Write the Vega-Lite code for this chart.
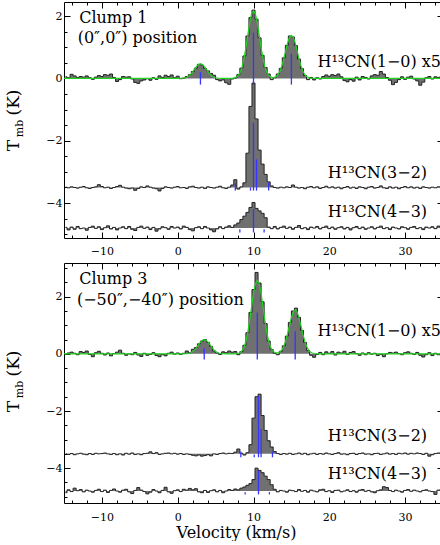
{
"$schema":"https://vega.github.io/schema/vega-lite/v6.json",
"padding":{"left":3,"top":1,"right":0,"bottom":0},
"background":"white",
"bounds":"flush",
"spacing":25,
"config":{
 "view":{"stroke":"black","strokeWidth":1},
 "axis":{"grid":false,"domain":false,"tickColor":"black","tickWidth":1,"labelColor":"black","labelFont":"DejaVu Serif","labelFontSize":11,"titleFont":"DejaVu Serif","titleFontWeight":"normal","titleColor":"black"},
 "text":{"font":"DejaVu Serif","fontSize":16,"color":"black"}
},
"datasets":{
 "base":[{"s":"p","b":0},{"s":"q","b":-3.5},{"s":"r","b":-4.8}],
 "top":[
{"v":-14.8,"p":0.05,"q":-3.49,"r":-4.78},{"v":-14.4,"p":0.02,"q":-3.51,"r":-4.86},{"v":-14.0,"p":0.13,"q":-3.48,"r":-4.77},{"v":-13.6,"p":0.08,"q":-3.5,"r":-4.84},{"v":-13.2,"p":0.03,"q":-3.52,"r":-4.75},{"v":-12.8,"p":0.06,"q":-3.49,"r":-4.82},{"v":-12.4,"p":0.04,"q":-3.47,"r":-4.8},{"v":-12.0,"p":0.08,"q":-3.51,"r":-4.87},{"v":-11.6,"p":0.02,"q":-3.53,"r":-4.78},{"v":-11.2,"p":-0.03,"q":-3.5,"r":-4.74},
{"v":-10.8,"p":0.04,"q":-3.48,"r":-4.81},{"v":-10.4,"p":0.09,"q":-3.41,"r":-4.76},{"v":-10.0,"p":0.06,"q":-3.47,"r":-4.85},{"v":-9.6,"p":0.12,"q":-3.51,"r":-4.79},{"v":-9.2,"p":0.1,"q":-3.49,"r":-4.73},{"v":-8.8,"p":0.14,"q":-3.53,"r":-4.83},{"v":-8.4,"p":0.03,"q":-3.5,"r":-4.78},{"v":-8.0,"p":-0.1,"q":-3.47,"r":-4.86},{"v":-7.6,"p":-0.04,"q":-3.43,"r":-4.8},{"v":-7.2,"p":0.06,"q":-3.49,"r":-4.76},
{"v":-6.8,"p":0.04,"q":-3.52,"r":-4.82},{"v":-6.4,"p":0.05,"q":-3.54,"r":-4.75},{"v":-6.0,"p":-0.02,"q":-3.52,"r":-4.84},{"v":-5.6,"p":-0.13,"q":-3.59,"r":-4.88},{"v":-5.2,"p":-0.16,"q":-3.53,"r":-4.78},{"v":-4.8,"p":-0.08,"q":-3.48,"r":-4.74},{"v":-4.4,"p":-0.05,"q":-3.5,"r":-4.81},{"v":-4.0,"p":-0.01,"q":-3.45,"r":-4.77},{"v":-3.6,"p":-0.06,"q":-3.49,"r":-4.85},{"v":-3.2,"p":0.02,"q":-3.52,"r":-4.78},
{"v":-2.8,"p":-0.03,"q":-3.54,"r":-4.9},{"v":-2.4,"p":0.08,"q":-3.61,"r":-4.83},{"v":-2.0,"p":0.03,"q":-3.53,"r":-4.76},{"v":-1.6,"p":0.1,"q":-3.48,"r":-4.79},{"v":-1.2,"p":0.06,"q":-3.5,"r":-4.84},{"v":-0.8,"p":0.11,"q":-3.52,"r":-4.75},{"v":-0.4,"p":0.02,"q":-3.49,"r":-4.8},{"v":0.0,"p":0.07,"q":-3.47,"r":-4.77},{"v":0.4,"p":-0.01,"q":-3.51,"r":-4.83},{"v":0.8,"p":0.01,"q":-3.5,"r":-4.74},
{"v":1.2,"p":0.06,"q":-3.53,"r":-4.78},{"v":1.6,"p":0.12,"q":-3.48,"r":-4.85},{"v":2.0,"p":0.22,"q":-3.46,"r":-4.89},{"v":2.4,"p":0.33,"q":-3.5,"r":-4.79},{"v":2.8,"p":0.45,"q":-3.52,"r":-4.76},{"v":3.2,"p":0.43,"q":-3.49,"r":-4.82},{"v":3.6,"p":0.32,"q":-3.53,"r":-4.75},{"v":4.0,"p":0.24,"q":-3.48,"r":-4.8},{"v":4.4,"p":0.16,"q":-3.5,"r":-4.86},{"v":4.8,"p":0.1,"q":-3.52,"r":-4.92},
{"v":5.2,"p":-0.04,"q":-3.49,"r":-4.83},{"v":5.6,"p":-0.08,"q":-3.46,"r":-4.76},{"v":6.0,"p":-0.05,"q":-3.51,"r":-4.82},{"v":6.4,"p":-0.14,"q":-3.53,"r":-4.77},{"v":6.8,"p":-0.19,"q":-3.49,"r":-4.73},{"v":7.2,"p":-0.02,"q":-3.42,"r":-4.78},{"v":7.6,"p":0.01,"q":-3.25,"r":-4.7},{"v":8.0,"p":0.12,"q":-3.55,"r":-4.64},{"v":8.4,"p":0.33,"q":-3.48,"r":-4.53},{"v":8.8,"p":0.72,"q":-3.35,"r":-4.42},
{"v":9.2,"p":1.36,"q":-2.4,"r":-4.3},{"v":9.6,"p":1.95,"q":-0.9,"r":-4.14},{"v":10.0,"p":2.19,"q":-0.15,"r":-3.98},{"v":10.4,"p":1.9,"q":-1.3,"r":-4.17},{"v":10.8,"p":1.3,"q":-2.3,"r":-4.25},{"v":11.2,"p":0.74,"q":-2.75,"r":-4.33},{"v":11.6,"p":0.35,"q":-3.08,"r":-4.47},{"v":12.0,"p":0.14,"q":-3.32,"r":-4.77},{"v":12.4,"p":-0.04,"q":-3.45,"r":-4.82},{"v":12.8,"p":0.02,"q":-3.5,"r":-4.75},
{"v":13.2,"p":0.14,"q":-3.52,"r":-4.83},{"v":13.6,"p":0.32,"q":-3.49,"r":-4.78},{"v":14.0,"p":0.66,"q":-3.51,"r":-4.74},{"v":14.4,"p":1.06,"q":-3.48,"r":-4.81},{"v":14.8,"p":1.36,"q":-3.5,"r":-4.77},{"v":15.2,"p":1.33,"q":-3.42,"r":-4.84},{"v":15.6,"p":1.05,"q":-3.49,"r":-4.78},{"v":16.0,"p":0.62,"q":-3.52,"r":-4.72},{"v":16.4,"p":0.31,"q":-3.5,"r":-4.82},{"v":16.8,"p":0.09,"q":-3.54,"r":-4.79},
{"v":17.2,"p":-0.04,"q":-3.49,"r":-4.85},{"v":17.6,"p":0.03,"q":-3.47,"r":-4.77},{"v":18.0,"p":-0.05,"q":-3.51,"r":-4.8},{"v":18.4,"p":0.02,"q":-3.48,"r":-4.75},{"v":18.8,"p":-0.02,"q":-3.53,"r":-4.83},{"v":19.2,"p":0.06,"q":-3.5,"r":-4.78},{"v":19.6,"p":0.11,"q":-3.46,"r":-4.74},{"v":20.0,"p":0.07,"q":-3.51,"r":-4.82},{"v":20.4,"p":0.12,"q":-3.48,"r":-4.77},{"v":20.8,"p":0.09,"q":-3.52,"r":-4.84},
{"v":21.2,"p":0.14,"q":-3.49,"r":-4.79},{"v":21.6,"p":0.05,"q":-3.54,"r":-4.76},{"v":22.0,"p":-0.07,"q":-3.5,"r":-4.83},{"v":22.4,"p":-0.11,"q":-3.47,"r":-4.78},{"v":22.8,"p":-0.04,"q":-3.52,"r":-4.86},{"v":23.2,"p":-0.09,"q":-3.49,"r":-4.79},{"v":23.6,"p":0.04,"q":-3.53,"r":-4.75},{"v":24.0,"p":-0.05,"q":-3.48,"r":-4.82},{"v":24.4,"p":0.06,"q":-3.5,"r":-4.77},{"v":24.8,"p":0.03,"q":-3.54,"r":-4.84},
{"v":25.2,"p":-0.02,"q":-3.49,"r":-4.8},{"v":25.6,"p":0.08,"q":-3.47,"r":-4.76},{"v":26.0,"p":0.12,"q":-3.52,"r":-4.83},{"v":26.4,"p":0.1,"q":-3.5,"r":-4.78},{"v":26.8,"p":0.22,"q":-3.45,"r":-4.74},{"v":27.2,"p":0.14,"q":-3.51,"r":-4.82},{"v":27.6,"p":0.03,"q":-3.53,"r":-4.79},{"v":28.0,"p":-0.06,"q":-3.48,"r":-4.85},{"v":28.4,"p":-0.2,"q":-3.52,"r":-4.77},{"v":28.8,"p":-0.13,"q":-3.49,"r":-4.8},
{"v":29.2,"p":-0.04,"q":-3.54,"r":-4.83},{"v":29.6,"p":0.05,"q":-3.5,"r":-4.76},{"v":30.0,"p":-0.03,"q":-3.47,"r":-4.79},{"v":30.4,"p":0.04,"q":-3.51,"r":-4.84},{"v":30.8,"p":0.07,"q":-3.48,"r":-4.78},{"v":31.2,"p":-0.02,"q":-3.52,"r":-4.75},{"v":31.6,"p":-0.08,"q":-3.49,"r":-4.82},{"v":32.0,"p":-0.22,"q":-3.53,"r":-4.79},{"v":32.4,"p":-0.12,"q":-3.48,"r":-4.85},{"v":32.8,"p":0.02,"q":-3.5,"r":-4.77},
{"v":33.2,"p":0.06,"q":-3.52,"r":-4.8},{"v":33.6,"p":-0.02,"q":-3.49,"r":-4.76},{"v":34.0,"p":0.05,"q":-3.51,"r":-4.82},{"v":34.4,"p":0.03,"q":-3.48,"r":-4.74},{"v":34.8,"p":0.06,"q":-3.5,"r":-4.78}
 ],
 "bot":[
{"v":-14.8,"p":-0.02,"q":-3.5,"r":-4.86},{"v":-14.4,"p":0.03,"q":-3.52,"r":-4.76},{"v":-14.0,"p":0.06,"q":-3.49,"r":-4.82},{"v":-13.6,"p":0.02,"q":-3.53,"r":-4.7},{"v":-13.2,"p":-0.03,"q":-3.5,"r":-4.79},{"v":-12.8,"p":0.08,"q":-3.48,"r":-4.75},{"v":-12.4,"p":0.05,"q":-3.51,"r":-4.83},{"v":-12.0,"p":0.1,"q":-3.53,"r":-4.77},{"v":-11.6,"p":-0.02,"q":-3.49,"r":-4.8},{"v":-11.2,"p":-0.1,"q":-3.52,"r":-4.84},
{"v":-10.8,"p":0.04,"q":-3.48,"r":-4.78},{"v":-10.4,"p":0.09,"q":-3.5,"r":-4.74},{"v":-10.0,"p":0.02,"q":-3.49,"r":-4.82},{"v":-9.6,"p":-0.04,"q":-3.47,"r":-4.77},{"v":-9.2,"p":0.03,"q":-3.5,"r":-4.85},{"v":-8.8,"p":-0.07,"q":-3.52,"r":-4.78},{"v":-8.4,"p":0.01,"q":-3.49,"r":-4.73},{"v":-8.0,"p":0.06,"q":-3.53,"r":-4.8},{"v":-7.6,"p":0.13,"q":-3.5,"r":-4.84},{"v":-7.2,"p":0.02,"q":-3.54,"r":-4.77},
{"v":-6.8,"p":-0.05,"q":-3.48,"r":-4.74},{"v":-6.4,"p":0.0,"q":-3.51,"r":-4.83},{"v":-6.0,"p":-0.03,"q":-3.47,"r":-4.89},{"v":-5.6,"p":0.05,"q":-3.52,"r":-4.78},{"v":-5.2,"p":-0.04,"q":-3.5,"r":-4.68},{"v":-4.8,"p":-0.09,"q":-3.53,"r":-4.77},{"v":-4.4,"p":0.02,"q":-3.49,"r":-4.82},{"v":-4.0,"p":-0.05,"q":-3.48,"r":-4.9},{"v":-3.6,"p":-0.02,"q":-3.43,"r":-4.84},{"v":-3.2,"p":0.04,"q":-3.49,"r":-4.75},
{"v":-2.8,"p":-0.06,"q":-3.46,"r":-4.8},{"v":-2.4,"p":-0.1,"q":-3.52,"r":-4.86},{"v":-2.0,"p":-0.03,"q":-3.5,"r":-4.78},{"v":-1.6,"p":-0.07,"q":-3.48,"r":-4.67},{"v":-1.2,"p":0.02,"q":-3.47,"r":-4.83},{"v":-0.8,"p":0.06,"q":-3.5,"r":-4.88},{"v":-0.4,"p":-0.01,"q":-3.48,"r":-4.79},{"v":0.0,"p":0.03,"q":-3.51,"r":-4.76},{"v":0.4,"p":-0.02,"q":-3.49,"r":-4.82},{"v":0.8,"p":0.02,"q":-3.52,"r":-4.74},
{"v":1.2,"p":0.1,"q":-3.5,"r":-4.77},{"v":1.6,"p":0.04,"q":-3.52,"r":-4.71},{"v":2.0,"p":0.16,"q":-3.55,"r":-4.76},{"v":2.4,"p":0.22,"q":-3.57,"r":-4.72},{"v":2.8,"p":0.35,"q":-3.54,"r":-4.83},{"v":3.2,"p":0.45,"q":-3.58,"r":-4.86},{"v":3.6,"p":0.5,"q":-3.56,"r":-4.78},{"v":4.0,"p":0.4,"q":-3.53,"r":-4.85},{"v":4.4,"p":0.26,"q":-3.57,"r":-4.79},{"v":4.8,"p":0.1,"q":-3.5,"r":-4.76},
{"v":5.2,"p":0.03,"q":-3.52,"r":-4.83},{"v":5.6,"p":-0.02,"q":-3.49,"r":-4.78},{"v":6.0,"p":0.07,"q":-3.47,"r":-4.86},{"v":6.4,"p":0.04,"q":-3.5,"r":-4.8},{"v":6.8,"p":0.1,"q":-3.48,"r":-4.75},{"v":7.2,"p":0.06,"q":-3.49,"r":-4.78},{"v":7.6,"p":0.08,"q":-3.44,"r":-4.73},{"v":8.0,"p":-0.03,"q":-3.33,"r":-4.76},{"v":8.4,"p":0.08,"q":-3.48,"r":-4.7},{"v":8.8,"p":0.3,"q":-3.54,"r":-4.66},
{"v":9.2,"p":0.74,"q":-3.46,"r":-4.6},{"v":9.6,"p":1.45,"q":-3.18,"r":-4.54},{"v":10.0,"p":2.25,"q":-2.25,"r":-4.4},{"v":10.4,"p":2.85,"q":-1.5,"r":-4.0},{"v":10.8,"p":2.48,"q":-1.41,"r":-4.08},{"v":11.2,"p":1.82,"q":-2.16,"r":-4.16},{"v":11.6,"p":1.06,"q":-2.68,"r":-4.28},{"v":12.0,"p":0.45,"q":-3.04,"r":-4.4},{"v":12.4,"p":0.15,"q":-3.26,"r":-4.58},{"v":12.8,"p":0.02,"q":-3.42,"r":-4.74},
{"v":13.2,"p":-0.03,"q":-3.49,"r":-4.83},{"v":13.6,"p":0.09,"q":-3.52,"r":-4.78},{"v":14.0,"p":0.28,"q":-3.49,"r":-4.8},{"v":14.4,"p":0.62,"q":-3.51,"r":-4.84},{"v":14.8,"p":1.1,"q":-3.48,"r":-4.77},{"v":15.2,"p":1.5,"q":-3.52,"r":-4.79},{"v":15.6,"p":1.6,"q":-3.5,"r":-4.82},{"v":16.0,"p":1.28,"q":-3.47,"r":-4.75},{"v":16.4,"p":0.82,"q":-3.51,"r":-4.81},{"v":16.8,"p":0.4,"q":-3.48,"r":-4.78},
{"v":17.2,"p":0.12,"q":-3.53,"r":-4.84},{"v":17.6,"p":-0.05,"q":-3.5,"r":-4.77},{"v":18.0,"p":-0.12,"q":-3.48,"r":-4.8},{"v":18.4,"p":-0.02,"q":-3.52,"r":-4.83},{"v":18.8,"p":0.05,"q":-3.49,"r":-4.76},{"v":19.2,"p":-0.03,"q":-3.51,"r":-4.74},{"v":19.6,"p":0.07,"q":-3.47,"r":-4.82},{"v":20.0,"p":0.02,"q":-3.5,"r":-4.79},{"v":20.4,"p":0.08,"q":-3.52,"r":-4.85},{"v":20.8,"p":-0.04,"q":-3.49,"r":-4.78},
{"v":21.2,"p":0.06,"q":-3.46,"r":-4.77},{"v":21.6,"p":0.03,"q":-3.51,"r":-4.83},{"v":22.0,"p":0.09,"q":-3.5,"r":-4.8},{"v":22.4,"p":-0.02,"q":-3.53,"r":-4.76},{"v":22.8,"p":0.05,"q":-3.49,"r":-4.82},{"v":23.2,"p":0.08,"q":-3.48,"r":-4.79},{"v":23.6,"p":0.01,"q":-3.52,"r":-4.84},{"v":24.0,"p":-0.05,"q":-3.49,"r":-4.77},{"v":24.4,"p":0.03,"q":-3.47,"r":-4.75},{"v":24.8,"p":-0.03,"q":-3.51,"r":-4.81},
{"v":25.2,"p":0.04,"q":-3.5,"r":-4.78},{"v":25.6,"p":-0.01,"q":-3.53,"r":-4.83},{"v":26.0,"p":0.02,"q":-3.49,"r":-4.86},{"v":26.4,"p":-0.06,"q":-3.48,"r":-4.79},{"v":26.8,"p":-0.02,"q":-3.52,"r":-4.76},{"v":27.2,"p":-0.1,"q":-3.5,"r":-4.65},{"v":27.6,"p":0.0,"q":-3.47,"r":-4.68},{"v":28.0,"p":0.05,"q":-3.51,"r":-4.78},{"v":28.4,"p":0.03,"q":-3.49,"r":-4.82},{"v":28.8,"p":0.06,"q":-3.52,"r":-4.77},
{"v":29.2,"p":0.01,"q":-3.48,"r":-4.8},{"v":29.6,"p":-0.03,"q":-3.5,"r":-4.84},{"v":30.0,"p":0.04,"q":-3.47,"r":-4.78},{"v":30.4,"p":0.07,"q":-3.51,"r":-4.75},{"v":30.8,"p":0.02,"q":-3.48,"r":-4.81},{"v":31.2,"p":-0.02,"q":-3.5,"r":-4.77},{"v":31.6,"p":0.05,"q":-3.47,"r":-4.8},{"v":32.0,"p":-0.05,"q":-3.49,"r":-4.83},{"v":32.4,"p":-0.11,"q":-3.52,"r":-4.78},{"v":32.8,"p":-0.03,"q":-3.48,"r":-4.76},
{"v":33.2,"p":0.04,"q":-3.58,"r":-4.8},{"v":33.6,"p":-0.06,"q":-3.53,"r":-4.82},{"v":34.0,"p":0.02,"q":-3.49,"r":-4.92},{"v":34.4,"p":-0.03,"q":-3.47,"r":-4.77},{"v":34.8,"p":0.01,"q":-3.5,"r":-4.75}
 ],
 "fitTop":[
{"v":-15,"t":0},{"v":0,"t":0},{"v":0.5,"t":0.004},{"v":1,"t":0.021},{"v":1.25,"t":0.043},{"v":1.5,"t":0.081},{"v":1.75,"t":0.139},{"v":2,"t":0.215},{"v":2.25,"t":0.303},{"v":2.5,"t":0.387},{"v":2.75,"t":0.447},{"v":3,"t":0.47},{"v":3.25,"t":0.447},{"v":3.5,"t":0.387},{"v":3.75,"t":0.303},{"v":4,"t":0.215},{"v":4.25,"t":0.139},{"v":4.5,"t":0.081},{"v":4.75,"t":0.043},{"v":5,"t":0.021},{"v":5.5,"t":0.004},{"v":6,"t":0},{"v":7,"t":0.002},{"v":7.25,"t":0.006},{"v":7.5,"t":0.017},{"v":7.75,"t":0.042},{"v":8,"t":0.095},{"v":8.25,"t":0.198},{"v":8.5,"t":0.373},{"v":8.75,"t":0.64},{"v":9,"t":0.994},{"v":9.25,"t":1.397},{"v":9.5,"t":1.786},{"v":9.75,"t":2.066},{"v":10,"t":2.17},{"v":10.25,"t":2.066},{"v":10.5,"t":1.786},{"v":10.75,"t":1.397},{"v":11,"t":0.994},{"v":11.25,"t":0.64},{"v":11.5,"t":0.373},{"v":11.75,"t":0.198},{"v":12,"t":0.096},{"v":12.25,"t":0.046},{"v":12.5,"t":0.027},{"v":12.75,"t":0.033},{"v":13,"t":0.063},{"v":13.25,"t":0.126},{"v":13.5,"t":0.237},{"v":13.75,"t":0.407},{"v":14,"t":0.632},{"v":14.25,"t":0.889},{"v":14.5,"t":1.136},{"v":14.75,"t":1.314},{"v":15,"t":1.38},{"v":15.25,"t":1.314},{"v":15.5,"t":1.136},{"v":15.75,"t":0.889},{"v":16,"t":0.632},{"v":16.25,"t":0.407},{"v":16.5,"t":0.237},{"v":16.75,"t":0.126},{"v":17,"t":0.061},{"v":17.25,"t":0.027},{"v":17.5,"t":0.011},{"v":17.75,"t":0.004},{"v":18,"t":0.001},{"v":18.5,"t":0},{"v":35,"t":0}
 ],
 "fitBot":[
{"v":-15,"t":0},{"v":0.5,"t":0},{"v":1,"t":0.004},{"v":1.25,"t":0.01},{"v":1.5,"t":0.022},{"v":1.75,"t":0.046},{"v":2,"t":0.086},{"v":2.25,"t":0.148},{"v":2.5,"t":0.229},{"v":2.75,"t":0.322},{"v":3,"t":0.412},{"v":3.25,"t":0.476},{"v":3.5,"t":0.5},{"v":3.75,"t":0.476},{"v":4,"t":0.412},{"v":4.25,"t":0.322},{"v":4.5,"t":0.229},{"v":4.75,"t":0.148},{"v":5,"t":0.086},{"v":5.25,"t":0.046},{"v":5.5,"t":0.022},{"v":5.75,"t":0.01},{"v":6,"t":0.004},{"v":6.5,"t":0},{"v":7.5,"t":0.002},{"v":7.75,"t":0.007},{"v":8,"t":0.02},{"v":8.25,"t":0.049},{"v":8.5,"t":0.113},{"v":8.75,"t":0.235},{"v":9,"t":0.442},{"v":9.25,"t":0.758},{"v":9.5,"t":1.177},{"v":9.75,"t":1.655},{"v":10,"t":2.115},{"v":10.25,"t":2.447},{"v":10.5,"t":2.57},{"v":10.75,"t":2.447},{"v":11,"t":2.115},{"v":11.25,"t":1.655},{"v":11.5,"t":1.177},{"v":11.75,"t":0.758},{"v":12,"t":0.442},{"v":12.25,"t":0.235},{"v":12.5,"t":0.114},{"v":12.75,"t":0.053},{"v":13,"t":0.032},{"v":13.25,"t":0.037},{"v":13.5,"t":0.07},{"v":13.75,"t":0.141},{"v":14,"t":0.265},{"v":14.25,"t":0.454},{"v":14.5,"t":0.705},{"v":14.75,"t":0.992},{"v":15,"t":1.267},{"v":15.25,"t":1.466},{"v":15.5,"t":1.54},{"v":15.75,"t":1.466},{"v":16,"t":1.267},{"v":16.25,"t":0.992},{"v":16.5,"t":0.705},{"v":16.75,"t":0.454},{"v":17,"t":0.265},{"v":17.25,"t":0.141},{"v":17.5,"t":0.068},{"v":17.75,"t":0.03},{"v":18,"t":0.012},{"v":18.25,"t":0.004},{"v":18.5,"t":0.001},{"v":19,"t":0},{"v":35,"t":0}
 ],
 "hfTop":[
{"v":3.0,"lo":-0.2,"hi":0.2},{"v":10.0,"lo":-0.2,"hi":1.47},{"v":15.0,"lo":-0.2,"hi":0.79},{"v":10.0,"lo":-3.6,"hi":-1.42},{"v":10.4,"lo":-3.6,"hi":-2.6},{"v":7.6,"lo":-3.6,"hi":-3.36},{"v":12.0,"lo":-3.6,"hi":-3.35},{"v":9.6,"lo":-3.6,"hi":-3.5},{"v":10.0,"lo":-4.94,"hi":-4.19},{"v":8.2,"lo":-4.94,"hi":-4.84},{"v":11.4,"lo":-4.94,"hi":-4.84}
 ],
 "hfBot":[
{"v":3.5,"lo":-0.2,"hi":0.2},{"v":10.5,"lo":-0.2,"hi":1.45},{"v":15.5,"lo":-0.2,"hi":0.79},{"v":10.66,"lo":-3.62,"hi":-1.48},{"v":11.0,"lo":-3.62,"hi":-2.63},{"v":8.33,"lo":-3.62,"hi":-3.42},{"v":12.5,"lo":-3.62,"hi":-3.42},{"v":10.1,"lo":-3.62,"hi":-3.52},{"v":10.66,"lo":-4.92,"hi":-4.09},{"v":8.9,"lo":-4.92,"hi":-4.84},{"v":12.1,"lo":-4.92,"hi":-4.84}
 ],
 "lblTopL":[{"v":-13.0,"t":1.79,"label":"Clump 1"},{"v":-13.2,"t":1.12,"label":"(0″,0″) position"}],
 "lblTopR":[{"v":34.74,"t":0.35,"label":"H¹³CN(1−0) x5"},{"v":32.9,"t":-3.18,"label":"H¹³CN(3−2)"},{"v":32.9,"t":-4.46,"label":"H¹³CN(4−3)"}],
 "lblBotL":[{"v":-13.0,"t":2.44,"label":"Clump 3"},{"v":-13.3,"t":1.71,"label":"(−50″,−40″) position"}],
 "lblBotR":[{"v":34.74,"t":0.63,"label":"H¹³CN(1−0) x5"},{"v":32.9,"t":-3.05,"label":"H¹³CN(3−2)"},{"v":32.9,"t":-4.38,"label":"H¹³CN(4−3)"}]
},
"vconcat":[
{
 "width":379,"height":236,
 "resolve":{"axis":{"x":"independent","y":"independent"}},
 "layer":[
  {"data":{"name":"top"},
   "transform":[{"fold":["p","q","r"],"as":["s","t"]},{"lookup":"s","from":{"data":{"name":"base"},"key":"s","fields":["b"]}}],
   "mark":{"type":"area","interpolate":"step","fill":"#707070","clip":true},
   "encoding":{
    "x":{"field":"v","type":"quantitative","scale":{"domain":[-15,35],"nice":false,"zero":false},"axis":{"orient":"bottom","values":[-10,0,10,20,30],"tickSize":-6,"labelPadding":13,"title":null}},
    "y":{"field":"t","type":"quantitative","scale":{"domain":[-5.12,2.45],"nice":false,"zero":false},"axis":{"orient":"left","values":[-4,-2,0,2],"tickSize":-6,"labelPadding":8,"title":"T","titleFontSize":17,"titleAngle":270,"titleX":-46,"titleY":143,"titleAlign":"center","titleBaseline":"alphabetic"}},
    "y2":{"field":"b"},
    "detail":{"field":"s"}}},
  {"data":{"name":"top"},
   "transform":[{"fold":["p","q","r"],"as":["s","t"]}],
   "mark":{"type":"line","interpolate":"step","color":"#222222","strokeWidth":1,"clip":true},
   "encoding":{
    "x":{"field":"v","type":"quantitative","scale":{"domain":[-15,35],"nice":false,"zero":false},"axis":{"orient":"bottom","values":[-14,-12,-10,-8,-6,-4,-2,0,2,4,6,8,10,12,14,16,18,20,22,24,26,28,30,32,34],"tickSize":-3,"labels":false,"title":null}},
    "y":{"field":"t","type":"quantitative","scale":{"domain":[-5.12,2.45],"nice":false,"zero":false},"axis":{"orient":"left","values":[-5,-4.5,-4,-3.5,-3,-2.5,-2,-1.5,-1,-0.5,0,0.5,1,1.5,2],"tickSize":-3,"labels":false,"title":"mb","titleFontSize":11,"titleAngle":270,"titleX":-42,"titleY":126,"titleAlign":"center","titleBaseline":"alphabetic"}},
    "detail":{"field":"s"}}},
  {"data":{"name":"fitTop"},
   "mark":{"type":"line","color":"#1fd41f","strokeWidth":1.2,"clip":true},
   "encoding":{
    "x":{"field":"v","type":"quantitative","scale":{"domain":[-15,35],"nice":false,"zero":false},"axis":{"orient":"top","values":[-10,0,10,20,30],"tickSize":-6,"labels":false,"title":null}},
    "y":{"field":"t","type":"quantitative","scale":{"domain":[-5.12,2.45],"nice":false,"zero":false},"axis":{"orient":"right","values":[-4,-2,0,2],"tickSize":-6,"labels":false,"title":null}}}},
  {"data":{"name":"hfTop"},
   "mark":{"type":"rule","color":"#3535ff","strokeWidth":1.3},
   "encoding":{
    "x":{"field":"v","type":"quantitative","scale":{"domain":[-15,35],"nice":false,"zero":false},"axis":{"orient":"top","values":[-14,-12,-10,-8,-6,-4,-2,0,2,4,6,8,10,12,14,16,18,20,22,24,26,28,30,32,34],"tickSize":-3,"labels":false,"title":null}},
    "y":{"field":"lo","type":"quantitative","scale":{"domain":[-5.12,2.45],"nice":false,"zero":false},"axis":{"orient":"right","values":[-5,-4.5,-4,-3.5,-3,-2.5,-2,-1.5,-1,-0.5,0,0.5,1,1.5,2],"tickSize":-3,"labels":false,"title":null}},
    "y2":{"field":"hi"}}},
  {"data":{"name":"lblTopL"},
   "mark":{"type":"text","align":"left","baseline":"alphabetic"},
   "encoding":{
    "x":{"field":"v","type":"quantitative","scale":{"domain":[-15,35],"nice":false,"zero":false},"axis":null},
    "y":{"field":"t","type":"quantitative","scale":{"domain":[-5.12,2.45],"nice":false,"zero":false},"axis":{"orient":"left","ticks":false,"labels":false,"title":"(K)","titleFontSize":17,"titleAngle":270,"titleX":-46,"titleY":100,"titleAlign":"center","titleBaseline":"alphabetic"}},
    "text":{"field":"label"}}},
  {"data":{"name":"lblTopR"},
   "mark":{"type":"text","align":"right","baseline":"alphabetic"},
   "encoding":{
    "x":{"field":"v","type":"quantitative","scale":{"domain":[-15,35],"nice":false,"zero":false},"axis":null},
    "y":{"field":"t","type":"quantitative","scale":{"domain":[-5.12,2.45],"nice":false,"zero":false},"axis":null},
    "text":{"field":"label"}}}
 ]
},
{
 "width":379,"height":240,
 "resolve":{"axis":{"x":"independent","y":"independent"}},
 "layer":[
  {"data":{"name":"bot"},
   "transform":[{"fold":["p","q","r"],"as":["s","t"]},{"lookup":"s","from":{"data":{"name":"base"},"key":"s","fields":["b"]}}],
   "mark":{"type":"area","interpolate":"step","fill":"#707070","clip":true},
   "encoding":{
    "x":{"field":"v","type":"quantitative","scale":{"domain":[-15,35],"nice":false,"zero":false},"axis":{"orient":"bottom","values":[-10,0,10,20,30],"tickSize":-6,"labelPadding":14,"title":"Velocity (km/s)","titleFontSize":16,"titlePadding":2,"titleX":172}},
    "y":{"field":"t","type":"quantitative","scale":{"domain":[-5.22,3.18],"nice":false,"zero":false},"axis":{"orient":"left","values":[-4,-2,0,2],"tickSize":-6,"labelPadding":8,"title":"T","titleFontSize":17,"titleAngle":270,"titleX":-46,"titleY":143,"titleAlign":"center","titleBaseline":"alphabetic"}},
    "y2":{"field":"b"},
    "detail":{"field":"s"}}},
  {"data":{"name":"bot"},
   "transform":[{"fold":["p","q","r"],"as":["s","t"]}],
   "mark":{"type":"line","interpolate":"step","color":"#222222","strokeWidth":1,"clip":true},
   "encoding":{
    "x":{"field":"v","type":"quantitative","scale":{"domain":[-15,35],"nice":false,"zero":false},"axis":{"orient":"bottom","values":[-14,-12,-10,-8,-6,-4,-2,0,2,4,6,8,10,12,14,16,18,20,22,24,26,28,30,32,34],"tickSize":-3,"labels":false,"title":null}},
    "y":{"field":"t","type":"quantitative","scale":{"domain":[-5.22,3.18],"nice":false,"zero":false},"axis":{"orient":"left","values":[-5,-4.5,-4,-3.5,-3,-2.5,-2,-1.5,-1,-0.5,0,0.5,1,1.5,2,2.5,3],"tickSize":-3,"labels":false,"title":"mb","titleFontSize":11,"titleAngle":270,"titleX":-42,"titleY":126,"titleAlign":"center","titleBaseline":"alphabetic"}},
    "detail":{"field":"s"}}},
  {"data":{"name":"fitBot"},
   "mark":{"type":"line","color":"#1fd41f","strokeWidth":1.2,"clip":true},
   "encoding":{
    "x":{"field":"v","type":"quantitative","scale":{"domain":[-15,35],"nice":false,"zero":false},"axis":{"orient":"top","values":[-10,0,10,20,30],"tickSize":-6,"labels":false,"title":null}},
    "y":{"field":"t","type":"quantitative","scale":{"domain":[-5.22,3.18],"nice":false,"zero":false},"axis":{"orient":"right","values":[-4,-2,0,2],"tickSize":-6,"labels":false,"title":null}}}},
  {"data":{"name":"hfBot"},
   "mark":{"type":"rule","color":"#3535ff","strokeWidth":1.3},
   "encoding":{
    "x":{"field":"v","type":"quantitative","scale":{"domain":[-15,35],"nice":false,"zero":false},"axis":{"orient":"top","values":[-14,-12,-10,-8,-6,-4,-2,0,2,4,6,8,10,12,14,16,18,20,22,24,26,28,30,32,34],"tickSize":-3,"labels":false,"title":null}},
    "y":{"field":"lo","type":"quantitative","scale":{"domain":[-5.22,3.18],"nice":false,"zero":false},"axis":{"orient":"right","values":[-5,-4.5,-4,-3.5,-3,-2.5,-2,-1.5,-1,-0.5,0,0.5,1,1.5,2,2.5,3],"tickSize":-3,"labels":false,"title":null}},
    "y2":{"field":"hi"}}},
  {"data":{"name":"lblBotL"},
   "mark":{"type":"text","align":"left","baseline":"alphabetic"},
   "encoding":{
    "x":{"field":"v","type":"quantitative","scale":{"domain":[-15,35],"nice":false,"zero":false},"axis":null},
    "y":{"field":"t","type":"quantitative","scale":{"domain":[-5.22,3.18],"nice":false,"zero":false},"axis":{"orient":"left","ticks":false,"labels":false,"title":"(K)","titleFontSize":17,"titleAngle":270,"titleX":-46,"titleY":100,"titleAlign":"center","titleBaseline":"alphabetic"}},
    "text":{"field":"label"}}},
  {"data":{"name":"lblBotR"},
   "mark":{"type":"text","align":"right","baseline":"alphabetic"},
   "encoding":{
    "x":{"field":"v","type":"quantitative","scale":{"domain":[-15,35],"nice":false,"zero":false},"axis":null},
    "y":{"field":"t","type":"quantitative","scale":{"domain":[-5.22,3.18],"nice":false,"zero":false},"axis":null},
    "text":{"field":"label"}}}
 ]
}
]
}
